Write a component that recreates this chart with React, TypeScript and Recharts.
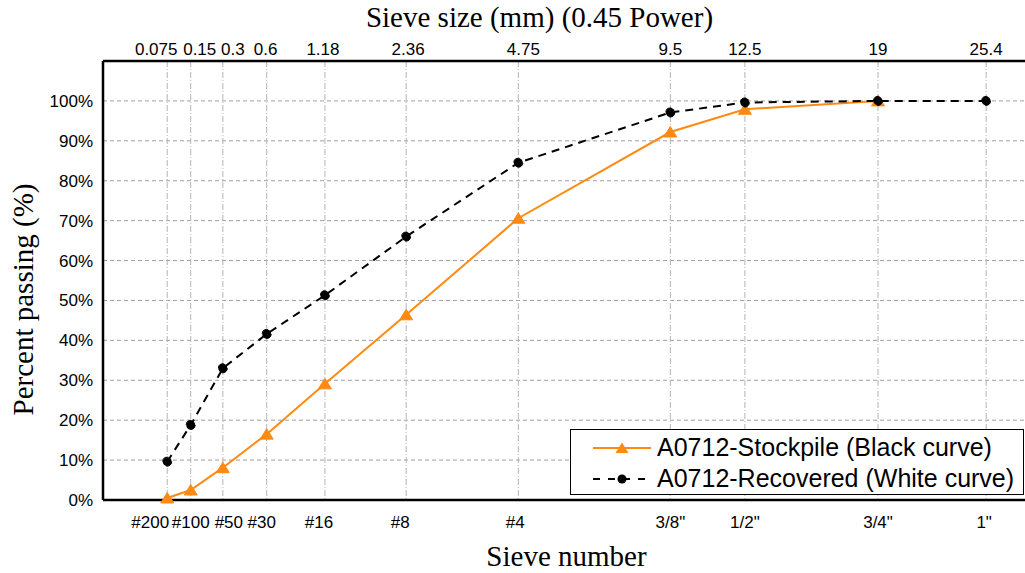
import React from "react";
import {
  LineChart,
  Line,
  XAxis,
  YAxis,
  CartesianGrid,
  Legend,
  Label,
} from "recharts";

// sieve openings (mm) and their US sieve designations
const sieveSizes = [0.075, 0.15, 0.3, 0.6, 1.18, 2.36, 4.75, 9.5, 12.5, 19, 25.4];
const sieveNames = ["#200", "#100", "#50", "#30", "#16", "#8", "#4", '3/8"', '1/2"', '3/4"', '1"'];

// percent passing for each sieve
const stockpile = [0.5, 2.5, 8.1, 16.5, 29.1, 46.4, 70.6, 92.2, 97.9, 100, null];
const recovered = [9.6, 18.8, 33.0, 41.6, 51.3, 66.0, 84.5, 97.1, 99.6, 100, 100];

const percentTicks = [0, 10, 20, 30, 40, 50, 60, 70, 80, 90, 100];
const minorPercentTicks = [5, 15, 25, 35, 45, 55, 65, 75, 85, 95, 105];

// small horizontal nudges so crowded labels at the fine end don't collide
const topNudge = [-11, 9, 10, -1, -2, 2, 5, 0, 0, 0, 0];
const bottomNudge = [-17, 0, 6, -5, -6, -6, -3, 0, 0, 0, -2];

const POWER = 0.45;
const xOf = (mm: number) => Math.pow(mm, POWER);

const data = sieveSizes.map((mm, i) => ({
  x: xOf(mm),
  stockpile: stockpile[i],
  recovered: recovered[i],
}));
const xTicks = sieveSizes.map(xOf);

const ORANGE = "#FF8A12";
const SANS = "'Liberation Sans', Arial, sans-serif";
const SERIF = "'Liberation Serif', 'Times New Roman', serif";

const TopTick = (props: any) => {
  const i = props.index;
  return (
    <text
      x={props.x + topNudge[i]}
      y={props.y - 6}
      textAnchor="middle"
      fontFamily={SANS}
      fontSize={17}
      fill="#000"
    >
      {sieveSizes[i]}
    </text>
  );
};

const BottomTick = (props: any) => {
  const i = props.index;
  return (
    <text
      x={props.x + bottomNudge[i]}
      y={props.y + 28}
      textAnchor="middle"
      fontFamily={SANS}
      fontSize={17}
      fill="#000"
    >
      {sieveNames[i]}
    </text>
  );
};

const Triangle = (props: any) => {
  const { cx, cy } = props;
  if (cx == null || cy == null || props.value == null) return <g key={props.key} />;
  return (
    <path
      key={props.key}
      d={`M${cx},${cy - 5.5} L${cx + 6.5},${cy + 5} L${cx - 6.5},${cy + 5} Z`}
      fill={ORANGE}
      stroke={ORANGE}
      strokeWidth={1}
    />
  );
};

const legendItems = [
  { name: "A0712-Stockpile (Black curve)", kind: "stockpile" },
  { name: "A0712-Recovered (White curve)", kind: "recovered" },
];

const LegendBox = () => (
  <div
    style={{
      width: 454,
      height: 66,
      boxSizing: "border-box",
      border: "1.5px solid #000",
      background: "#fff",
      paddingTop: 2,
      fontFamily: SANS,
      fontSize: 25,
      color: "#000",
    }}
  >
    {legendItems.map((item) => (
      <div
        key={item.kind}
        style={{ display: "flex", alignItems: "center", height: 31, whiteSpace: "nowrap" }}
      >
        <svg width={80} height={20} style={{ flex: "none" }}>
          {item.kind === "stockpile" ? (
            <>
              <line x1={22} y1={10} x2={80} y2={10} stroke={ORANGE} strokeWidth={2} />
              <path d="M51,4.5 L57.5,15 L44.5,15 Z" fill={ORANGE} />
            </>
          ) : (
            <>
              <line
                x1={22}
                y1={10}
                x2={80}
                y2={10}
                stroke="#000"
                strokeWidth={1.8}
                strokeDasharray="7 8"
              />
              <circle cx={51} cy={10} r={4.5} fill="#000" />
            </>
          )}
        </svg>
        <span style={{ marginLeft: 6, lineHeight: "31px" }}>{item.name}</span>
      </div>
    ))}
  </div>
);

const TopTitle = (props: any) => {
  const vb = props.viewBox ?? { x: 103, y: 0, width: 927, height: 61 };
  return (
    <text
      x={vb.x + vb.width / 2 - 27}
      y={27}
      textAnchor="middle"
      fontFamily={SERIF}
      fontSize={29}
      fill="#000"
    >
      Sieve size (mm) (0.45 Power)
    </text>
  );
};

const BottomTitle = (props: any) => {
  const vb = props.viewBox ?? { x: 103, y: 500, width: 927, height: 73 };
  return (
    <text
      x={vb.x + vb.width / 2}
      y={vb.y + 66}
      textAnchor="middle"
      fontFamily={SERIF}
      fontSize={29}
      fill="#000"
    >
      Sieve number
    </text>
  );
};

const YTitle = (props: any) => {
  const vb = props.viewBox ?? { x: 0, y: 61, width: 103, height: 439 };
  const cy = vb.y + vb.height / 2 + 19;
  return (
    <text
      x={33}
      y={cy}
      transform={`rotate(-90, 33, ${cy})`}
      textAnchor="middle"
      fontFamily={SERIF}
      fontSize={29}
      fill="#000"
    >
      Percent passing (%)
    </text>
  );
};

export default function App() {
  return (
    <div
      style={{
        position: "absolute",
        left: 0,
        top: 0,
        width: 1025,
        height: 573,
        overflow: "hidden",
        background: "#fff",
      }}
    >
      <LineChart
        width={1040}
        height={573}
        data={data}
        margin={{ top: 0, right: 10, bottom: 0, left: 0 }}
      >
        {/* minor 5% grid, dotted */}
        <CartesianGrid
          yAxisId="minor"
          xAxisId="bottom"
          vertical={false}
          stroke="#c8c8c8"
          strokeDasharray="2 2"
        />
        {/* major 10% grid plus a line at every sieve */}
        <CartesianGrid
          yAxisId="pct"
          xAxisId="bottom"
          vertical={false}
          stroke="#a0a0a0"
          strokeDasharray="4 3"
        />
        <CartesianGrid
          yAxisId="pct"
          xAxisId="bottom"
          horizontal={false}
          stroke="#b4b4b4"
          strokeDasharray="6 2 1 2"
        />

        <XAxis
          xAxisId="bottom"
          orientation="bottom"
          type="number"
          dataKey="x"
          domain={[0, 4.5]}
          ticks={xTicks}
          interval={0}
          height={73}
          tickLine={false}
          tickSize={0}
          tickMargin={0}
          axisLine={{ stroke: "#000", strokeWidth: 2.5 }}
          tick={(p: any) => <BottomTick {...p} />}
        >
          <Label content={(p: any) => <BottomTitle {...p} />} />
        </XAxis>
        <XAxis
          xAxisId="top"
          orientation="top"
          type="number"
          dataKey="x"
          domain={[0, 4.5]}
          ticks={xTicks}
          interval={0}
          height={61}
          tickLine={false}
          tickSize={0}
          tickMargin={0}
          axisLine={{ stroke: "#000", strokeWidth: 2.5 }}
          tick={(p: any) => <TopTick {...p} />}
        >
          <Label content={(p: any) => <TopTitle {...p} />} />
        </XAxis>

        <YAxis
          yAxisId="pct"
          orientation="left"
          width={103}
          type="number"
          domain={[0, 110]}
          ticks={percentTicks}
          interval={0}
          tickFormatter={(v: number) => `${v}%`}
          tickLine={false}
          tickSize={0}
          tickMargin={10}
          axisLine={{ stroke: "#000", strokeWidth: 2.5 }}
          tick={{ fill: "#000", fontSize: 17, fontFamily: SANS }}
        >
          <Label content={(p: any) => <YTitle {...p} />} />
        </YAxis>
        {/* inward tick marks: major on both sides, minor on the left */}
        <YAxis
          yAxisId="majorIn"
          orientation="left"
          mirror
          type="number"
          domain={[0, 110]}
          ticks={percentTicks}
          interval={0}
          tick={false}
          axisLine={false}
          tickSize={10}
          tickLine={{ stroke: "#000", strokeWidth: 2 }}
        />
        <YAxis
          yAxisId="minor"
          orientation="left"
          mirror
          type="number"
          domain={[0, 110]}
          ticks={minorPercentTicks}
          interval={0}
          tick={false}
          axisLine={false}
          tickSize={5}
          tickLine={{ stroke: "#000", strokeWidth: 2 }}
        />
        <YAxis
          yAxisId="rightIn"
          orientation="right"
          mirror
          type="number"
          domain={[0, 110]}
          ticks={percentTicks}
          interval={0}
          tick={false}
          axisLine={false}
          tickSize={10}
          tickLine={{ stroke: "#000", strokeWidth: 2 }}
        />

        <Legend
          layout="horizontal"
          verticalAlign="middle"
          align="center"
          wrapperStyle={{ left: 570, top: 429, width: 454, height: 66 }}
          content={() => <LegendBox />}
        />

        <Line
          xAxisId="bottom"
          yAxisId="pct"
          dataKey="stockpile"
          name="A0712-Stockpile (Black curve)"
          stroke={ORANGE}
          strokeWidth={2}
          dot={(p: any) => <Triangle {...p} />}
          activeDot={false}
          isAnimationActive={false}
        />
        <Line
          xAxisId="bottom"
          yAxisId="pct"
          dataKey="recovered"
          name="A0712-Recovered (White curve)"
          stroke="#000"
          strokeWidth={2}
          strokeDasharray="8 6"
          dot={{ r: 4.5, fill: "#000", stroke: "#000", strokeWidth: 1 }}
          activeDot={false}
          isAnimationActive={false}
        />
      </LineChart>
    </div>
  );
}
